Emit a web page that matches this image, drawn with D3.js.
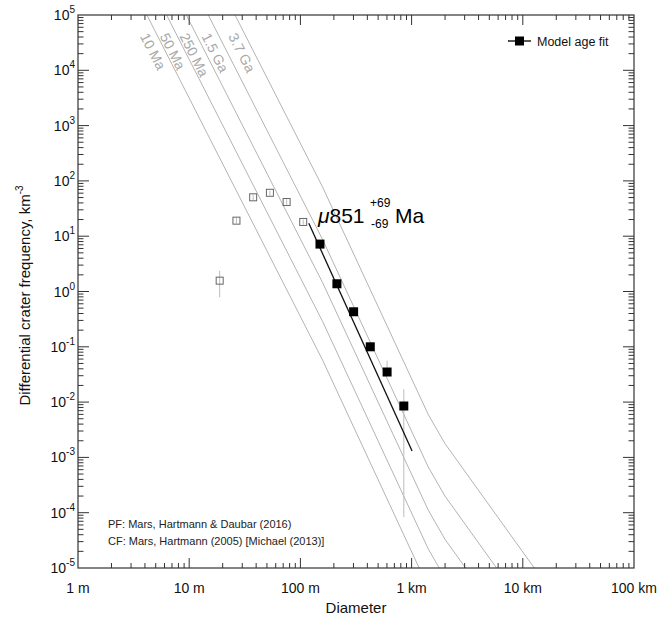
<!DOCTYPE html>
<html>
<head>
<meta charset="utf-8">
<script src="https://cdn.jsdelivr.net/npm/d3@7"></script>
<style>
  body { margin: 0; background: #fff; }
  svg text { font-family: "Liberation Sans", Arial, Helvetica, sans-serif; }
</style>
</head>
<body>
<div id="chart"></div>
<script>
// diameters in km, frequencies in km^-3
const isoDiam = [0.001, 0.1585, 1.413, 1.995, 31.6];
const iso10Ma = [2.80e7, 0.0571, 4.41e-6, 1.32e-6, 5.75e-10];
const iso50Ma = [1.40e8, 0.286, 2.21e-5, 6.61e-6, 2.88e-9];
const iso250Ma = [7.03e8, 1.44, 1.11e-4, 3.31e-5, 1.45e-8];
const iso1500Ma = [4.24e9, 8.65, 6.67e-4, 2.0e-4, 8.71e-8];
const iso3700Ma = [3.78e10, 77.1, 5.94e-3, 1.78e-3, 7.76e-7];
const isoLabels = ["10 Ma", "50 Ma", "250 Ma", "1.5 Ga", "3.7 Ga"];

// binned crater counts
const binDiam = [0.0188, 0.0266, 0.0376, 0.0532, 0.0752, 0.106, 0.150, 0.213, 0.301, 0.425, 0.602, 0.851];
const binN = [1.57, 19.1, 50.5, 61, 41.5, 18.1, 7.2, 1.38, 0.43, 0.10, 0.035, 0.0085];
const binHi = [2.38, 21.5, 56, 67, 46.5, 20, 7.9, 1.55, 0.48, 0.115, 0.056, 0.017];
const binLo = [0.785, 16.9, 45, 55, 37, 16.2, 6.5, 1.22, 0.39, 0.088, 0.03, 8.3e-5];
const binUsed = [false, false, false, false, false, false, true, true, true, true, true, true];

// model age fit
const fitDiam = [0.119, 1.01];
const fitN = [17.1, 1.31e-3];

const xTicks = [0.001, 0.01, 0.1, 1, 10, 100];
const xTickLabels = ["1 m", "10 m", "100 m", "1 km", "10 km", "100 km"];
const yExps = [-5, -4, -3, -2, -1, 0, 1, 2, 3, 4, 5];

const width = 662, height = 618;
const pLeft = 78, pRight = 634, pTop = 15, pBottom = 568;

const x = d3.scaleLog().domain([0.001, 100]).range([pLeft, pRight]);
const y = d3.scaleLog().domain([1e-5, 1e5]).range([pBottom, pTop]);

const svg = d3.select("#chart").append("svg")
  .attr("width", width)
  .attr("height", height);

svg.append("defs").append("clipPath").attr("id", "plotclip")
  .append("rect")
  .attr("x", pLeft).attr("y", pTop)
  .attr("width", pRight - pLeft).attr("height", pBottom - pTop);

const line = d3.line().x(d => x(d[0])).y(d => y(d[1]));

// isochrons
const isoSeries = [iso10Ma, iso50Ma, iso250Ma, iso1500Ma, iso3700Ma];
const isoG = svg.append("g").attr("clip-path", "url(#plotclip)");
isoSeries.forEach(s => {
  isoG.append("path")
    .datum(isoDiam.map((d, i) => [d, s[i]]))
    .attr("d", line)
    .attr("fill", "none")
    .attr("stroke", "#b4b4b4")
    .attr("stroke-width", 1);
});

// isochron labels, rotated along the line near the top
function pointAtY(pts, yp) {
  const px = pts.map(p => [x(p[0]), y(p[1])]);
  for (let i = 0; i < px.length - 1; i++) {
    const a = px[i], b = px[i + 1];
    if ((a[1] - yp) * (b[1] - yp) <= 0) {
      const t = (yp - a[1]) / (b[1] - a[1]);
      return { x: a[0] + t * (b[0] - a[0]), y: yp, ang: Math.atan2(b[1] - a[1], b[0] - a[0]) };
    }
  }
  return null;
}
isoSeries.forEach((s, k) => {
  const p = pointAtY(isoDiam.map((d, i) => [d, s[i]]), 29);
  const off = 16;
  const ax = p.x - off * Math.sin(p.ang);
  const ay = p.y + off * Math.cos(p.ang);
  svg.append("text")
    .attr("transform", `translate(${ax},${ay}) rotate(${p.ang * 180 / Math.PI})`)
    .attr("font-size", 14)
    .attr("fill", "#a8a8a8")
    .text(isoLabels[k]);
});

// error bars
const bins = binDiam.map((d, i) => ({ d, n: binN[i], hi: binHi[i], lo: binLo[i], used: binUsed[i] }));
svg.append("g").selectAll("line")
  .data(bins)
  .join("line")
  .attr("x1", d => x(d.d)).attr("x2", d => x(d.d))
  .attr("y1", d => y(d.hi)).attr("y2", d => y(d.lo))
  .attr("stroke", "#bdbdbd")
  .attr("stroke-width", 1);

// fit line
svg.append("path")
  .datum(fitDiam.map((d, i) => [d, fitN[i]]))
  .attr("d", line)
  .attr("fill", "none")
  .attr("stroke", "#111")
  .attr("stroke-width", 1.3);

// points
svg.append("g").selectAll("rect.open")
  .data(bins.filter(d => !d.used))
  .join("rect")
  .attr("x", d => x(d.d) - 3.5).attr("y", d => y(d.n) - 3.5)
  .attr("width", 7).attr("height", 7)
  .attr("fill", "none")
  .attr("stroke", "#666")
  .attr("stroke-width", 1);
svg.append("g").selectAll("rect.used")
  .data(bins.filter(d => d.used))
  .join("rect")
  .attr("x", d => x(d.d) - 4.5).attr("y", d => y(d.n) - 4.5)
  .attr("width", 9).attr("height", 9)
  .attr("fill", "#000");

// frame and ticks
svg.append("rect")
  .attr("x", pLeft).attr("y", pTop)
  .attr("width", pRight - pLeft).attr("height", pBottom - pTop)
  .attr("fill", "none").attr("stroke", "#333").attr("stroke-width", 1.2);

const xMinor = [], yMinor = [];
for (let e = -3; e < 2; e++) for (let m = 2; m < 10; m++) xMinor.push(m * Math.pow(10, e));
for (let e = -5; e < 5; e++) for (let m = 2; m < 10; m++) yMinor.push(m * Math.pow(10, e));

const tg = svg.append("g").attr("stroke", "#333").attr("stroke-width", 1);
function xTick(v, len) {
  tg.append("line").attr("x1", x(v)).attr("x2", x(v)).attr("y1", pBottom).attr("y2", pBottom - len);
  tg.append("line").attr("x1", x(v)).attr("x2", x(v)).attr("y1", pTop).attr("y2", pTop + len);
}
function yTick(v, len) {
  tg.append("line").attr("y1", y(v)).attr("y2", y(v)).attr("x1", pLeft).attr("x2", pLeft + len);
  tg.append("line").attr("y1", y(v)).attr("y2", y(v)).attr("x1", pRight).attr("x2", pRight - len);
}
xTicks.slice(1, -1).forEach(v => xTick(v, 10));
xMinor.forEach(v => xTick(v, 5));
yExps.slice(1, -1).forEach(e => yTick(Math.pow(10, e), 11));
yMinor.forEach(v => yTick(v, 5.5));

// tick labels
svg.append("g").selectAll("text")
  .data(xTicks)
  .join("text")
  .attr("x", d => x(d)).attr("y", 593)
  .attr("text-anchor", "middle")
  .attr("font-size", 14)
  .attr("fill", "#111")
  .text((d, i) => xTickLabels[i]);

yExps.forEach(e => {
  const t = svg.append("text")
    .attr("x", 75).attr("y", y(Math.pow(10, e)) + 5)
    .attr("text-anchor", "end")
    .attr("font-size", 14)
    .attr("fill", "#111");
  t.append("tspan").text("10");
  t.append("tspan").attr("dy", -7).attr("font-size", 10).text(e);
});

// axis titles
svg.append("text")
  .attr("x", (pLeft + pRight) / 2).attr("y", 613)
  .attr("text-anchor", "middle")
  .attr("font-size", 15)
  .attr("fill", "#111")
  .text("Diameter");

const yt = svg.append("text")
  .attr("transform", `translate(30,${(pTop + pBottom) / 2 + 4}) rotate(-90)`)
  .attr("text-anchor", "middle")
  .attr("font-size", 15)
  .attr("fill", "#111");
yt.append("tspan").text("Differential crater frequency, km");
yt.append("tspan").attr("dy", -7).attr("font-size", 10).text("-3");

// age annotation
const ann = svg.append("g").attr("fill", "#000");
ann.append("text").attr("x", 318).attr("y", 223).attr("font-size", 21)
  .html('<tspan font-style="italic">μ</tspan>851');
ann.append("text").attr("x", 370).attr("y", 207).attr("font-size", 12).text("+69");
ann.append("text").attr("x", 371).attr("y", 228).attr("font-size", 12).text("-69");
ann.append("text").attr("x", 395).attr("y", 223).attr("font-size", 21).text("Ma");

// legend
const lg = svg.append("g");
lg.append("line").attr("x1", 508).attr("x2", 531).attr("y1", 41).attr("y2", 41)
  .attr("stroke", "#000").attr("stroke-width", 1.3);
lg.append("rect").attr("x", 515).attr("y", 36.5).attr("width", 9).attr("height", 9).attr("fill", "#000");
lg.append("text").attr("x", 537).attr("y", 45.5).attr("font-size", 12.5).attr("fill", "#111")
  .text("Model age fit");

// production / chronology function notes
svg.append("text").attr("x", 108).attr("y", 528).attr("font-size", 11).attr("fill", "#222")
  .text("PF: Mars, Hartmann & Daubar (2016)");
svg.append("text").attr("x", 108).attr("y", 545).attr("font-size", 11).attr("fill", "#222")
  .text("CF: Mars, Hartmann (2005) [Michael (2013)]");
</script>
</body>
</html>
